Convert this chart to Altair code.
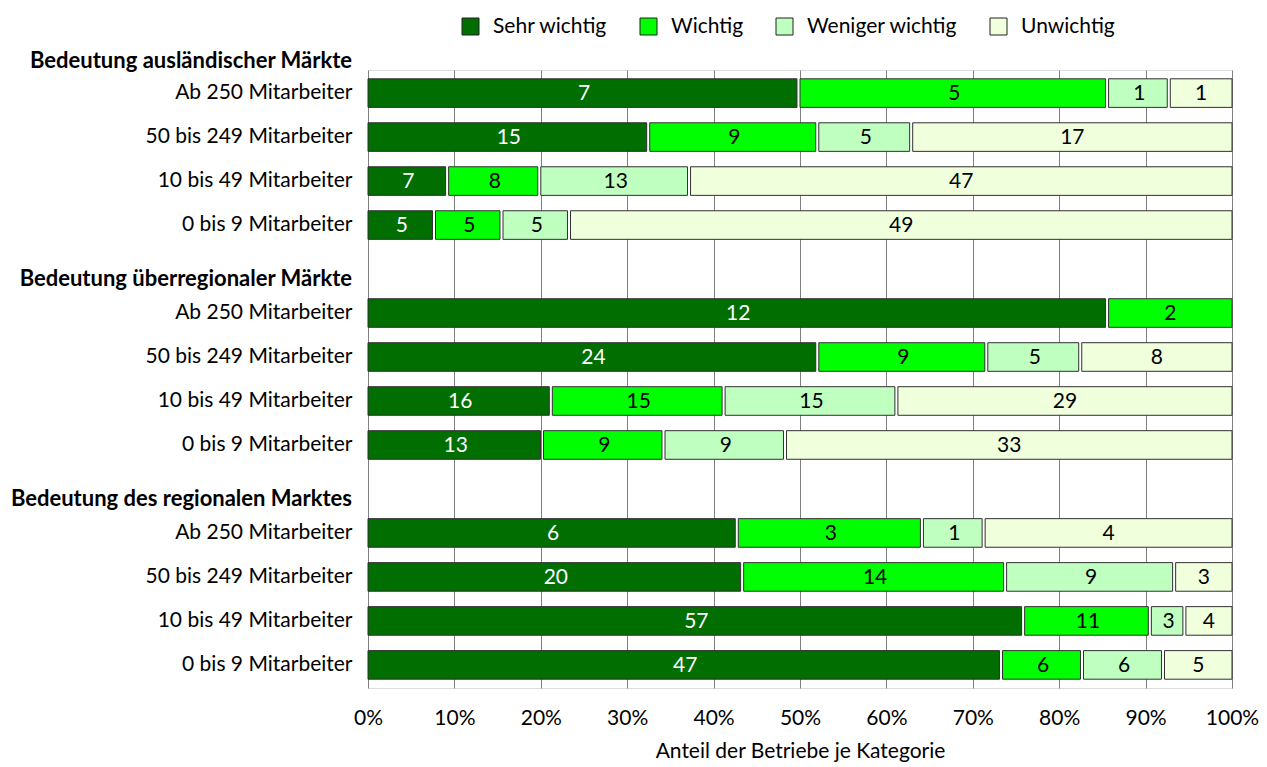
import altair as alt
import pandas as pd

categories = ["Sehr wichtig", "Wichtig", "Weniger wichtig", "Unwichtig"]
colors = ["#006E00", "#00FF00", "#BFFFBF", "#F0FFDC"]
groups = ["Bedeutung ausländischer Märkte", "Bedeutung überregionaler Märkte", "Bedeutung des regionalen Marktes"]
sizes = ["Ab 250 Mitarbeiter", "50 bis 249 Mitarbeiter", "10 bis 49 Mitarbeiter", "0 bis 9 Mitarbeiter"]

# counts per category, rows in order of `sizes`
auslaendisch_sehr = [7, 15, 7, 5]
auslaendisch_wichtig = [5, 9, 8, 5]
auslaendisch_weniger = [1, 5, 13, 5]
auslaendisch_unwichtig = [1, 17, 47, 49]

ueberregional_sehr = [12, 24, 16, 13]
ueberregional_wichtig = [2, 9, 15, 9]
ueberregional_weniger = [0, 5, 15, 9]
ueberregional_unwichtig = [0, 8, 29, 33]

regional_sehr = [6, 20, 57, 47]
regional_wichtig = [3, 14, 11, 6]
regional_weniger = [1, 9, 3, 6]
regional_unwichtig = [4, 3, 4, 5]

series = [
    [auslaendisch_sehr, auslaendisch_wichtig, auslaendisch_weniger, auslaendisch_unwichtig],
    [ueberregional_sehr, ueberregional_wichtig, ueberregional_weniger, ueberregional_unwichtig],
    [regional_sehr, regional_wichtig, regional_weniger, regional_unwichtig],
]

records = []
domain = []
for gi, g in enumerate(groups):
    if gi > 0:
        domain.append(f"gap{gi}")
    for si, s in enumerate(sizes):
        key = f"{g}|{s}"
        domain.append(key)
        for ci, c in enumerate(categories):
            records.append({"row": key, "kategorie": c, "order": ci, "anzahl": series[gi][ci][si]})
df = pd.DataFrame(records)

FONT = "Lato"
FS = 21
FSB = 22

yscale = alt.Scale(domain=domain, paddingInner=0.35, paddingOuter=0.2)
yenc = alt.Y("row:N", scale=yscale, sort=domain,
             axis=alt.Axis(title=None, ticks=False, domain=False, labelPadding=16, labelLimit=500,
                           labelFontSize=FS, labelColor="#000", labelFont=FONT,
                           labelExpr="indexof(datum.value,'|')>=0 ? split(datum.value,'|')[1] : ''"))

base = alt.Chart(df).transform_filter("datum.anzahl > 0").transform_joinaggregate(
    total="sum(anzahl)", groupby=["row"]
).transform_calculate(
    pct="datum.anzahl / datum.total"
).transform_stack(
    stack="pct", groupby=["row"], as_=["x0", "x1"], sort=[alt.SortField("order", order="ascending")]
).transform_calculate(
    xe="datum.x1 < 0.999 ? datum.x1 - 0.0035 : datum.x1",
    xm="(datum.x0 + datum.x1) / 2",
)

bars = base.mark_bar(stroke="#303030", strokeWidth=1).encode(
    x=alt.X("x0:Q", scale=alt.Scale(domain=[0, 1], nice=False, zero=True),
            axis=alt.Axis(format=".0%", values=[i / 10 for i in range(11)], title="Anteil der Betriebe je Kategorie",
                          ticks=False, domain=False, labelPadding=19, labelFontSize=FS, labelColor="#000",
                          labelFlush=False, labelOverlap=False,
                          titleFontSize=FS, titleFontWeight="normal", titleColor="#000", titlePadding=12,
                          gridColor="#808080", gridWidth=1, labelFont=FONT, titleFont=FONT)),
    x2="xe:Q",
    y=yenc,
    color=alt.Color("kategorie:N", scale=alt.Scale(domain=categories, range=colors),
                    legend=alt.Legend(orient="none", legendX=92, legendY=-54, direction="horizontal",
                                      columns=4, title=None, symbolType="square", symbolSize=289,
                                      symbolStrokeColor="#222", symbolStrokeWidth=1, symbolOpacity=1,
                                      labelFontSize=FS, labelFont=FONT, labelColor="#000",
                                      columnPadding=30, labelOffset=12)),
)

labels = base.mark_text(fontSize=FS, font=FONT, baseline="middle", dy=1).encode(
    x="xm:Q",
    y=alt.Y("row:N", scale=yscale, sort=domain),
    text="anzahl:Q",
    color=alt.condition("datum.order == 0", alt.value("white"), alt.value("black")),
)

hdr_rows = ["gap1", "gap2"]
hdr_texts = [groups[1], groups[2]]
hdr_df = pd.DataFrame({"row": hdr_rows, "text": hdr_texts})
headers = alt.Chart(hdr_df).mark_text(align="right", baseline="middle", fontSize=FSB, font=FONT,
                                      fontWeight="bold", color="#000", dy=10).encode(
    x=alt.value(-16),
    y=alt.Y("row:N", scale=yscale, sort=domain),
    text="text:N",
)

hdr1 = alt.Chart(pd.DataFrame({"text": [groups[0]]})).mark_text(
    align="right", baseline="middle", fontSize=FSB, font=FONT, fontWeight="bold", color="#000"
).encode(x=alt.value(-16), y=alt.value(-9), text="text:N")

chart = alt.layer(bars, labels, headers, hdr1).properties(
    width=864, height=618,
    padding={"left": 2, "top": 8, "right": 0, "bottom": 5},
).configure_view(stroke="#404040", strokeWidth=1).configure(font=FONT)

chart.save("out.html", embed_options={"renderer": "svg", "actions": False})
